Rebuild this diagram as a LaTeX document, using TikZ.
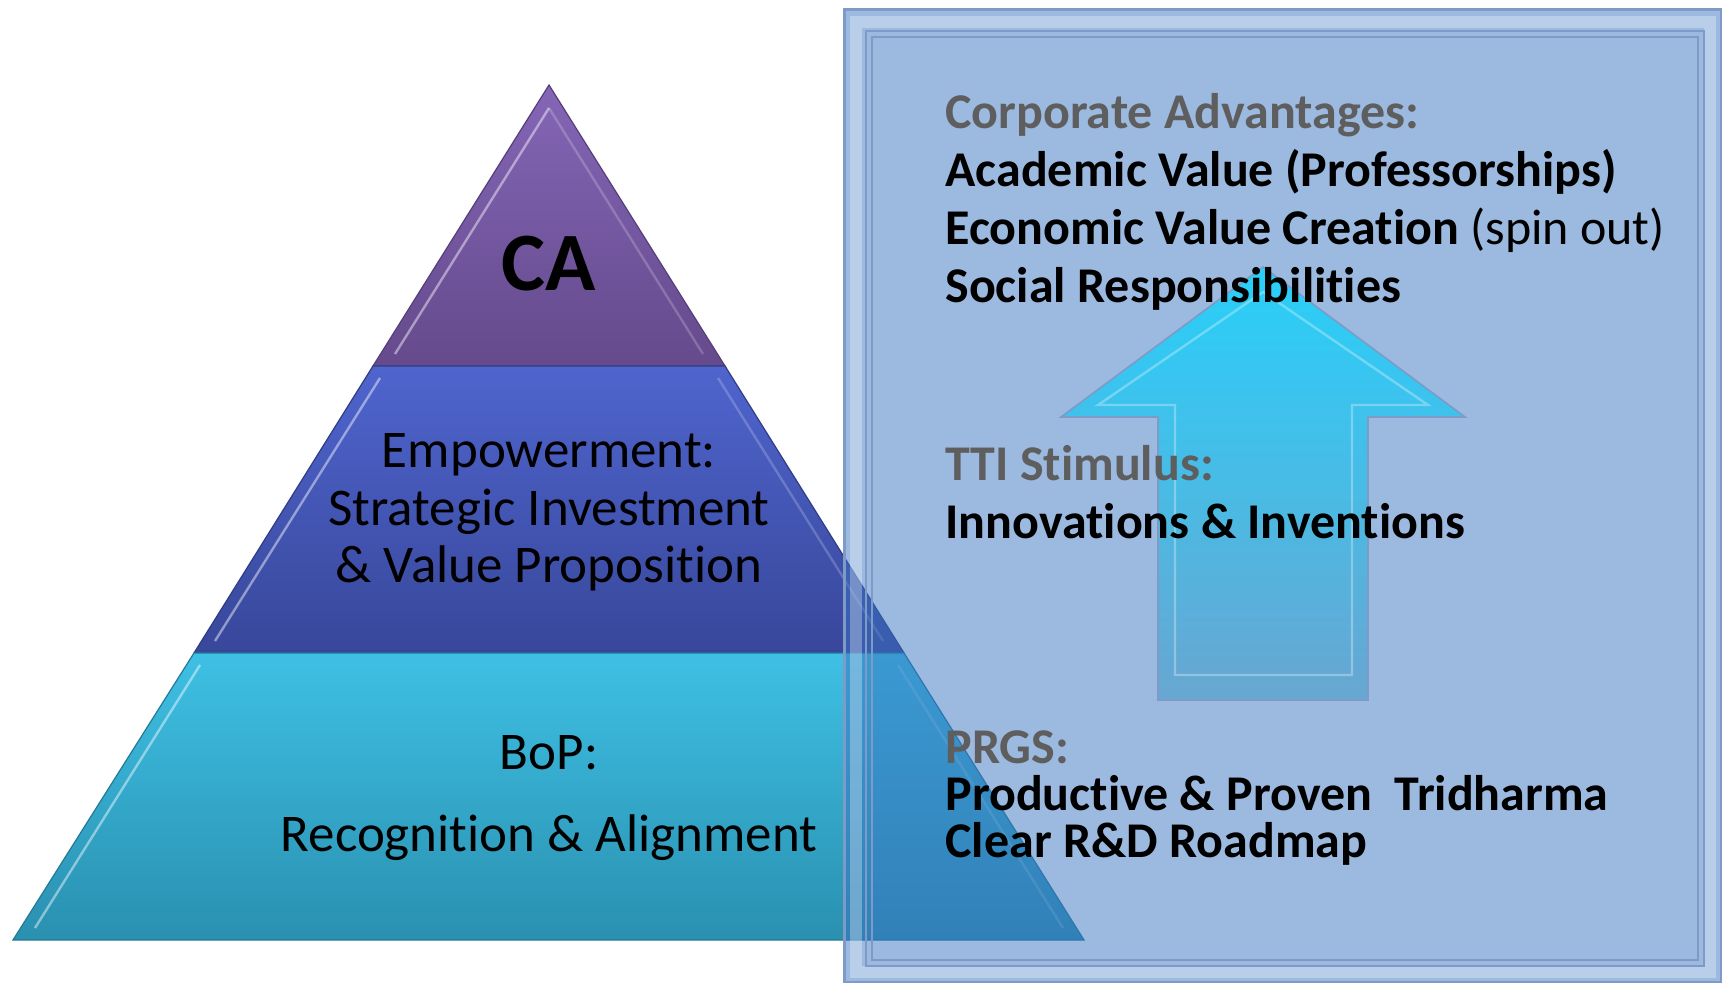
\documentclass[tikz,border=0pt]{standalone}
\usepackage{fontspec}
\setmainfont[Ligatures=NoCommon]{Carlito}
\usepackage{tikz}
\usetikzlibrary{matrix}
\definecolor{caTop}{HTML}{8466B6}
\definecolor{caBot}{HTML}{654A8C}
\definecolor{emTop}{HTML}{4F65CE}
\definecolor{emBot}{HTML}{38479A}
\definecolor{boTop}{HTML}{3EC0E4}
\definecolor{boBot}{HTML}{2A90B0}
\definecolor{boxblue}{HTML}{3973C1}
\definecolor{boxedge}{HTML}{7E9AC6}
\definecolor{arrTop}{HTML}{1FD2FC}
\definecolor{arrBot}{HTML}{64A6D0}
\definecolor{hdrgray}{HTML}{5E5E5E}

\begin{document}
\begin{tikzpicture}[x=0.5pt,y=-0.5pt,
    tier/.style n args={2}{top color=#1, bottom color=#2, draw=#2!85!black, line width=0.6pt},
    bevel/.style={draw=white, draw opacity=0.45, line width=1.2pt},
    lbl/.style={inner sep=0pt, anchor=base, font=\fontsize{26.5}{32}\selectfont},
    hdr/.style={text=hdrgray}]
  \useasboundingbox (0,0) rectangle (1722,983);

  % pyramid
  \path[tier={caTop}{caBot}] (549,85) -- (725,366) -- (373,366) -- cycle;
  \path[tier={emTop}{emBot}] (373,366) -- (725,366) -- (904,653) -- (194,653) -- cycle;
  \path[tier={boTop}{boBot}] (194,653) -- (904,653) -- (1084,940) -- (13,940) -- cycle;
  \draw[bevel] (549,108) -- (395,354);
  \draw[bevel] (380,378) -- (215,641);
  \draw[bevel] (200,665) -- (35,928);
  \draw[bevel, draw opacity=0.2] (549,108) -- (703,354);
  \draw[bevel, draw opacity=0.2] (718,378) -- (883,641);
  \draw[bevel, draw opacity=0.2] (898,665) -- (1063,928);

  % framed panel
  \fill[boxblue, fill opacity=0.5] (843,9) rectangle (1722,983);
  \draw[white, opacity=0.3, line width=6pt] (856,22) rectangle (1710,972);
  \draw[boxedge, line width=1.5pt] (844,10) rectangle (1721,982);
  \draw[boxedge, line width=0.6pt] (866,31) rectangle (1704,966);
  \draw[boxedge, line width=0.6pt] (872,37) rectangle (1698,960);

  % arrow
  \path[top color=arrTop, bottom color=arrBot, draw=boxedge, line width=0.8pt, fill opacity=0.92]
    (1263,267) -- (1465,417) -- (1368,417) -- (1368,700) -- (1158,700) -- (1158,417) -- (1061,417) -- cycle;
  \draw[bevel, draw opacity=0.3] (1263,292) -- (1428,405) -- (1352,405) -- (1352,675) -- (1175,675) -- (1175,405) -- (1098,405) -- cycle;

  \node[lbl, font=\fontsize{41.5}{48}\selectfont\bfseries] (ca) at (549,291) {CA};
  \node[lbl] (emp) at (549,467) {Empowerment:};
  \node[lbl] (inv) at (549,525) {Strategic Investment};
  \node[lbl] (vp) at (549,582) {\& Value Proposition};
  \node[lbl] (bop) at (549,769) {BoP:};
  \node[lbl] (ra) at (549,851) {Recognition \& Alignment};

  \matrix (col) [matrix of nodes, anchor=north west, inner sep=0pt, row sep=0pt,
    nodes={anchor=base west, inner sep=0pt, text height=20pt, text depth=9pt,
      font=\fontsize{25}{29}\selectfont\bfseries}] at (945,88) {
    |[hdr]| Corporate Advantages: \\
    Academic Value (Professorships) \\
    Economic Value Creation {\mdseries (spin out)} \\
    Social Responsibilities \\[60pt]
    |[hdr]| TTI Stimulus: \\
    Innovations \& Inventions \\[83.5pt]
    |[hdr]| PRGS: \\[-5.5pt]
    Productive \& Proven~~Tridharma \\[-5.5pt]
    Clear R\&D Roadmap \\
  };
\end{tikzpicture}
\end{document}
